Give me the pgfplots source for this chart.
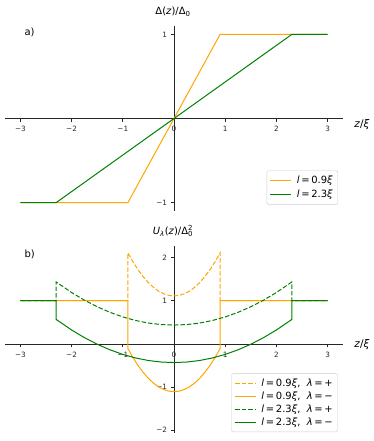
\documentclass[border=0pt]{standalone}
\usepackage{fontspec}
\setmainfont{DejaVu Sans}
\usepackage{pgfplots}
\pgfplotsset{compat=1.18}

\definecolor{mplorange}{HTML}{FFA500}
\definecolor{mplgreen}{HTML}{008000}

\newcommand{\mi}[1]{\textit{#1}}

\pgfplotsset{
  panel/.style={
    scale only axis,
    width=338bp,
    axis lines=middle,
    axis line style={-, line width=0.6pt, black!85},
    xmin=-3.3, xmax=3.3,
    xtick={-3,-2,-1,0,1,2,3},
    xticklabels={−3,−2,−1,0,1,2,3},
    hide obscured x ticks=false,
    hide obscured y ticks=false,
    tick align=outside,
    major tick length=3.5bp,
    tick style={line width=0.6pt, black!85},
    ticklabel style={font=\fontsize{7.3}{8}\selectfont, text=black!85},
    x tick label style={yshift=-1bp},
    clip=false,
    legend cell align=left,
    legend image code/.code={
      \draw[#1, line width=1pt] (0bp,0bp) -- (21bp,0bp);
      \path (24bp,0bp);},
    legend style={font=\fontsize{10}{12}\selectfont, draw=black!20, rounded corners=1.5pt,
                  inner xsep=3bp, inner ysep=3bp, row sep=1.5bp},
  },
  dashedline/.style={dash pattern=on 4.5bp off 2bp},
}

\begin{document}
\begin{tikzpicture}
\path (0,0) rectangle (374bp,-441bp);

% panel a)
\begin{axis}[panel,
  at={(5bp,-211bp)}, anchor=south west,
  height=185bp,
  ymin=-1.1, ymax=1.1,
  ytick={-1,1}, yticklabels={−1,1},
  legend style={at={(0.985,0.035)}, anchor=south east},
]
\addplot[mplorange, line width=1pt] coordinates {(-3,-1) (-0.9,-1) (0.9,1) (3,1)};
\addlegendentry{\mi{l}\,=\,0.9\mi{ξ}}
\addplot[mplgreen, line width=1pt] coordinates {(-3,-1) (-2.3,-1) (2.3,1) (3,1)};
\addlegendentry{\mi{l}\,=\,2.3\mi{ξ}}
\end{axis}
\node at (173bp,-12bp) {\fontsize{10}{12}\selectfont Δ(\mi{z})/Δ\textsubscript{0}};
\node[anchor=west] at (21bp,-32bp) {\fontsize{10}{12}\selectfont a)};
\node at (362bp,-125bp) {\fontsize{10.5}{12}\selectfont\mi{z}/\mi{ξ}};

% panel b)
\begin{axis}[panel,
  at={(5bp,-433bp)}, anchor=south west,
  height=187bp,
  ymin=-2.07, ymax=2.27,
  ytick={-2,-1,1,2}, yticklabels={−2,−1,1,2},
  legend style={at={(0.985,0.005)}, anchor=south east, row sep=0bp},
]
\addplot[mplorange, line width=1pt, dashedline] coordinates {
 (-3,1) (-0.9,1) (-0.9,2.1111) (-0.8,1.9012) (-0.7,1.7160) (-0.6,1.5556) (-0.5,1.4198)
 (-0.4,1.3086) (-0.3,1.2222) (-0.2,1.1605) (-0.1,1.1235) (0,1.1111)
 (0.1,1.1235) (0.2,1.1605) (0.3,1.2222) (0.4,1.3086) (0.5,1.4198) (0.6,1.5556)
 (0.7,1.7160) (0.8,1.9012) (0.9,2.1111) (0.9,1) (3,1)};
\addlegendentry{\mi{l}\,=\,0.9\mi{ξ},\ \ \mi{λ}\,=\,+}
\addplot[mplorange, line width=1pt] coordinates {
 (-3,1) (-0.9,1) (-0.9,-0.1111) (-0.8,-0.3210) (-0.7,-0.5062) (-0.6,-0.6667) (-0.5,-0.8025)
 (-0.4,-0.9136) (-0.3,-1.0000) (-0.2,-1.0617) (-0.1,-1.0988) (0,-1.1111)
 (0.1,-1.0988) (0.2,-1.0617) (0.3,-1.0000) (0.4,-0.9136) (0.5,-0.8025) (0.6,-0.6667)
 (0.7,-0.5062) (0.8,-0.3210) (0.9,-0.1111) (0.9,1) (3,1)};
\addlegendentry{\mi{l}\,=\,0.9\mi{ξ},\ \ \mi{λ}\,=\,−}
\addplot[mplgreen, line width=1pt, dashedline] coordinates {
 (-3,1) (-2.3,1) (-2.3,1.4348) (-2.0,1.1909) (-1.75,1.0137) (-1.5,0.8601) (-1.25,0.7302)
 (-1.0,0.6238) (-0.75,0.5411) (-0.5,0.4821) (-0.25,0.4466) (0,0.4348)
 (0.25,0.4466) (0.5,0.4821) (0.75,0.5411) (1.0,0.6238) (1.25,0.7302) (1.5,0.8601)
 (1.75,1.0137) (2.0,1.1909) (2.3,1.4348) (2.3,1) (3,1)};
\addlegendentry{\mi{l}\,=\,2.3\mi{ξ},\ \ \mi{λ}\,=\,+}
\addplot[mplgreen, line width=1pt] coordinates {
 (-3,1) (-2.3,1) (-2.3,0.5652) (-2.0,0.3213) (-1.75,0.1441) (-1.5,-0.0095) (-1.25,-0.1394)
 (-1.0,-0.2458) (-0.75,-0.3285) (-0.5,-0.3875) (-0.25,-0.4230) (0,-0.4348)
 (0.25,-0.4230) (0.5,-0.3875) (0.75,-0.3285) (1.0,-0.2458) (1.25,-0.1394) (1.5,-0.0095)
 (1.75,0.1441) (2.0,0.3213) (2.3,0.5652) (2.3,1) (3,1)};
\addlegendentry{\mi{l}\,=\,2.3\mi{ξ},\ \ \mi{λ}\,=\,−}
\end{axis}
\node at (173bp,-231bp) {\fontsize{10}{12}\selectfont\mi{U}\textsubscript{\mi{λ}}(\mi{z})/Δ\rlap{\textsubscript{0}}\textsuperscript{2}};
\node[anchor=west] at (21bp,-254bp) {\fontsize{10}{12}\selectfont b)};
\node at (362bp,-345bp) {\fontsize{10.5}{12}\selectfont\mi{z}/\mi{ξ}};
\end{tikzpicture}
\end{document}
